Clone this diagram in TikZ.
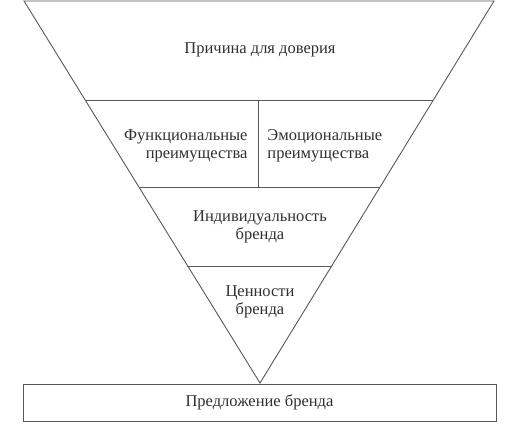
\documentclass[tikz,border=0pt]{standalone}
\usepackage{fontspec}
\setmainfont{Liberation Serif}
\definecolor{linegray}{HTML}{585858}
\definecolor{textgray}{HTML}{303030}
\tikzset{
  label text/.style={inner sep=0pt, text=textgray, align=center},
}
\begin{document}
\begin{tikzpicture}[x=1pt, y=-1pt, font=\fontsize{16.5}{18}\selectfont, line width=0.9pt, draw=linegray]
	\useasboundingbox (0,0) rectangle (520,428);
	\coordinate (topleft) at (24,1);
	\coordinate (topright) at (494,1);
	\coordinate (apex) at (260,383);
	\coordinate (trustL) at (85.5,100);
	\coordinate (trustR) at (432.5,100);
	\coordinate (benefitL) at (139.5,187);
	\coordinate (benefitR) at (379.5,187);
	\coordinate (personL) at (187,266);
	\coordinate (personR) at (332,266);
	\coordinate (splitT) at (258,100);
	\coordinate (splitB) at (258,187);

	\draw[linegray] (topleft) -- (topright) -- (apex) -- cycle;
	\path (trustL) edge[linegray] (trustR);
	\path (benefitL) edge[linegray] (benefitR);
	\path (personL) edge[linegray] (personR);
	\path (splitT) edge[linegray] (splitB);

	\node[label text] (trust) at (260,49.5) {Причина для доверия};
	\node[label text, align=right, anchor=east] (functional) at (248,145.5) {Функциональные\\преимущества};
	\node[label text, align=left, anchor=west] (emotional) at (267,145.5) {Эмоциональные\\преимущества};
	\node[label text] (personality) at (260,226.5) {Индивидуальность\\бренда};
	\node[label text] (values) at (260,301.5) {Ценности\\бренда};
	\node[draw=linegray, text=textgray, minimum width=473pt, minimum height=37pt] (offer) at (259.5,402.5) {\raisebox{-1.5pt}{Предложение бренда}};
\end{tikzpicture}
\end{document}
